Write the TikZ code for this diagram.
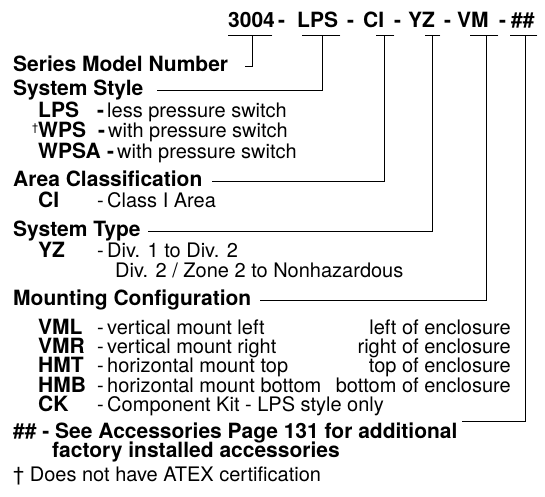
\documentclass[tikz,border=0pt]{standalone}
\usepackage{fontspec}
\setmainfont{TeX Gyre Heros}
\begin{document}
\begin{tikzpicture}[x=1pt,y=-1pt,
  lbl/.style={anchor=base west,inner sep=0pt,font=\fontsize{21}{22}\selectfont\bfseries},
  txt/.style={anchor=base west,inner sep=0pt,font=\fontsize{20}{22}\selectfont},
  rtxt/.style={anchor=base east,inner sep=0pt,font=\fontsize{20}{22}\selectfont},
  sup/.style={anchor=base west,inner sep=0pt,font=\fontsize{11}{12}\selectfont},
  conn/.style={line width=0.8pt,line cap=rect}]
\useasboundingbox (0,0) rectangle (545,496);
% title
\node[lbl] (t1) at (228,27) {3004};
\node[lbl] (d1) at (278,27) {-};
\node[lbl] (t2) at (297,27) {LPS};
\node[lbl] (d2) at (347,27) {-};
\node[lbl] (t3) at (363,27) {CI};
\node[lbl] (d3) at (394,27) {-};
\node[lbl] (t4) at (408,27) {YZ};
\node[lbl] (d4) at (444,27) {-};
\node[lbl] (t5) at (457,27) {VM};
\node[lbl] (d5) at (499,27) {-};
\node[lbl] (t6) at (511,27) {\#\#};
% underlines
\coordinate (u1a) at (228,35); \coordinate (u1b) at (272,35); \coordinate (u1) at (252,35);
\coordinate (u2a) at (302,35); \coordinate (u2b) at (340,35); \coordinate (u2) at (322,35);
\coordinate (u3a) at (376,35); \coordinate (u3b) at (394,35); \coordinate (u3) at (384,35);
\coordinate (u4a) at (425,35); \coordinate (u4b) at (440,35); \coordinate (u4) at (432,35);
\coordinate (u5a) at (470,35); \coordinate (u5b) at (498,35); \coordinate (u5) at (486,35);
\coordinate (u6a) at (510,35); \coordinate (u6b) at (537,35); \coordinate (u6) at (525,35);
\foreach \i in {1,...,6} {\draw[conn] (u\i a) -- (u\i b);}
% labels
\node[lbl] (series) at (13,71) {Series Model Number};
\node[lbl] (style) at (13,95) {System Style};
\node[lbl] (lps) at (38,117) {LPS};
\node[lbl] (lpsd) at (97,117) {-};
\node[txt] (lpst) at (107,117) {less pressure switch};
\node[sup] (dag) at (32,131) {†};
\node[lbl] (wps) at (38,137) {WPS};
\node[lbl] (wpsd) at (98,137) {-};
\node[txt] (wpst) at (108,137) {with pressure switch};
\node[lbl] (wpsa) at (38,158) {WPSA};
\node[lbl] (wpsad) at (107,158) {-};
\node[txt] (wpsat) at (117,158) {with pressure switch};
\node[lbl] (area) at (13,186) {Area Classification};
\node[lbl] (ci) at (38,207) {CI};
\node[txt] (cid) at (97,207) {-};
\node[txt] (cit) at (107,207) {Class I Area};
\node[lbl] (type) at (13,236) {System Type};
\node[lbl] (yz) at (38,257) {YZ};
\node[txt] (yzd) at (97,257) {-};
\node[txt] (yzt) at (107,257) {Div. 1 to Div. 2};
\node[txt] (yzt2) at (115,277) {Div. 2 / Zone 2 to Nonhazardous};
\node[lbl] (mount) at (13,305) {Mounting Configuration};
\node[lbl] (vml) at (38,334) {VML};
\node[txt] (vmld) at (97,334) {-};
\node[txt] (vmlt) at (107,334) {vertical mount left};
\node[rtxt] (vmlr) at (511,334) {left of enclosure};
\node[lbl] (vmr) at (38,353) {VMR};
\node[txt] (vmrd) at (97,353) {-};
\node[txt] (vmrt) at (107,353) {vertical mount right};
\node[rtxt] (vmrr) at (511,353) {right of enclosure};
\node[lbl] (hmt) at (38,372) {HMT};
\node[txt] (hmtd) at (97,372) {-};
\node[txt] (hmtt) at (107,372) {horizontal mount top};
\node[rtxt] (hmtr) at (511,372) {top of enclosure};
\node[lbl] (hmb) at (38,392) {HMB};
\node[txt] (hmbd) at (97,392) {-};
\node[txt] (hmbt) at (107,392) {horizontal mount bottom};
\node[rtxt] (hmbr) at (511,392) {bottom of enclosure};
\node[lbl] (ck) at (38,411) {CK};
\node[txt] (ckd) at (97,411) {-};
\node[txt] (ckt) at (107,411) {Component Kit - LPS style only};
\node[lbl] (acc) at (13,438) {\#\# - See Accessories Page 131 for additional};
\node[lbl] (acc2) at (52,457) {factory installed accessories};
\node[txt] (note) at (13,481) {† Does not have ATEX certification};
% connector ends
\coordinate (c1) at (245,66);
\coordinate (c2) at ([shift={(14,-5)}]style.base east);
\coordinate (c3) at ([shift={(10,-5)}]area.base east);
\coordinate (c4) at ([shift={(8,-5)}]type.base east);
\coordinate (c5) at ([shift={(9,-5)}]mount.base east);
\coordinate (c6) at ([shift={(5,-17)}]acc.base east);
\draw[conn] (u1) |- (c1);
\draw[conn] (u2) |- (c2);
\draw[conn] (u3) |- (c3);
\draw[conn] (u4) |- (c4);
\draw[conn] (u5) |- (c5);
\draw[conn] (u6) |- (c6);
\end{tikzpicture}
\end{document}
